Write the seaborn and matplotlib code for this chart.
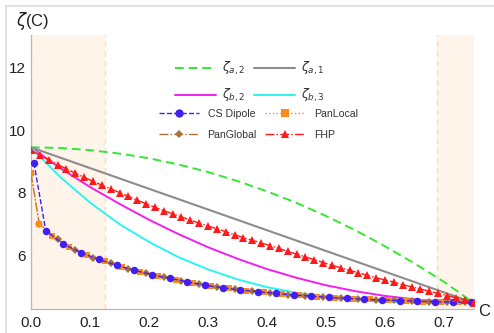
import numpy as np
import pandas as pd
import matplotlib
matplotlib.use("Agg")
import matplotlib.pyplot as plt
import seaborn as sns
from matplotlib.lines import Line2D
from matplotlib.patches import Rectangle

# ---------------- data ----------------
C_curve = [0.00, 0.05, 0.10, 0.15, 0.20, 0.25, 0.30, 0.35,
           0.40, 0.45, 0.50, 0.55, 0.60, 0.65, 0.70, 0.75]
zeta_a2 = [9.45, 9.43, 9.36, 9.25, 9.10, 8.90, 8.66, 8.37,
           8.04, 7.67, 7.25, 6.79, 6.28, 5.73, 5.14, 4.47]
zeta_b2 = [9.45, 8.78, 8.18, 7.64, 7.13, 6.67, 6.25, 5.88,
           5.55, 5.27, 5.03, 4.84, 4.69, 4.58, 4.51, 4.47]
zeta_b3 = [9.45, 8.49, 7.68, 6.99, 6.42, 5.93, 5.54, 5.22,
           4.97, 4.79, 4.65, 4.56, 4.51, 4.48, 4.47, 4.47]
C_a1 = [0.00, 0.75]
zeta_a1 = [9.45, 4.47]

C_dip = [0.005, 0.025, 0.055, 0.085, 0.115, 0.145, 0.175, 0.205, 0.235,
         0.265, 0.295, 0.325, 0.355, 0.385, 0.415, 0.445, 0.475, 0.505,
         0.535, 0.565, 0.595, 0.625, 0.655, 0.685, 0.715, 0.745]
v_dip = [8.95, 6.78, 6.35, 6.07, 5.86, 5.67, 5.51, 5.37, 5.25,
         5.14, 5.03, 4.95, 4.88, 4.82, 4.77, 4.72, 4.68, 4.64,
         4.61, 4.58, 4.56, 4.54, 4.52, 4.50, 4.49, 4.48]

C_loc = [0.000, 0.014, 0.035, 0.065, 0.095, 0.125, 0.155, 0.185, 0.215,
         0.245, 0.275, 0.305, 0.335, 0.365, 0.395, 0.425, 0.455, 0.485,
         0.515, 0.545, 0.575, 0.605, 0.635, 0.665, 0.695, 0.725, 0.750]
v_loc = [8.63, 7.00, 6.62, 6.25, 6.00, 5.80, 5.62, 5.46, 5.33,
         5.21, 5.10, 5.01, 4.93, 4.86, 4.80, 4.75, 4.71, 4.67,
         4.63, 4.60, 4.58, 4.56, 4.53, 4.51, 4.50, 4.49, 4.48]

C_glob = [0.000, 0.014, 0.045, 0.075, 0.105, 0.135, 0.165, 0.195, 0.225,
          0.255, 0.285, 0.315, 0.345, 0.375, 0.405, 0.435, 0.465, 0.495,
          0.525, 0.555, 0.585, 0.615, 0.645, 0.675, 0.705, 0.735]
v_glob = [8.60, 7.00, 6.50, 6.15, 5.92, 5.73, 5.56, 5.41, 5.29,
          5.17, 5.07, 4.98, 4.90, 4.84, 4.78, 4.73, 4.69, 4.65,
          4.62, 4.59, 4.57, 4.55, 4.53, 4.51, 4.50, 4.49]

C_fhp = [0.000, 0.015, 0.030, 0.045, 0.060, 0.075, 0.090, 0.105, 0.120, 0.135,
         0.150, 0.165, 0.180, 0.195, 0.210, 0.225, 0.240, 0.255, 0.270, 0.285,
         0.300, 0.315, 0.330, 0.345, 0.360, 0.375, 0.390, 0.405, 0.420, 0.435,
         0.450, 0.465, 0.480, 0.495, 0.510, 0.525, 0.540, 0.555, 0.570, 0.585,
         0.600, 0.615, 0.630, 0.645, 0.660, 0.675, 0.690, 0.705, 0.720, 0.735,
         0.750]
v_fhp = [9.35, 9.20, 9.05, 8.90, 8.76, 8.62, 8.49, 8.36, 8.24, 8.12,
         8.00, 7.88, 7.76, 7.64, 7.53, 7.42, 7.32, 7.22, 7.12, 7.02,
         6.93, 6.84, 6.75, 6.65, 6.56, 6.47, 6.39, 6.30, 6.21, 6.12,
         6.03, 5.94, 5.85, 5.76, 5.67, 5.59, 5.51, 5.43, 5.35, 5.27,
         5.20, 5.13, 5.05, 4.98, 4.91, 4.84, 4.77, 4.70, 4.63, 4.57,
         4.47]

band_left = (0.0, 0.125)
band_right = (0.688, 0.75)
xticks = [0.0, 0.1, 0.2, 0.3, 0.4, 0.5, 0.6, 0.7]
xticklabels = ["0.0", "0.1", "0.2", "0.3", "0.4", "0.5", "0.6", "0.7"]
yticks = [6, 8, 10, 12]
yticklabels = ["6", "8", "10", "12"]

# ---------------- style ----------------
sns.set_theme(style="white")
plt.rcParams["font.family"] = ["Liberation Sans", "DejaVu Sans"]
plt.rcParams["mathtext.fontset"] = "dejavusans"

fig = plt.figure(figsize=(4.94, 3.33), dpi=100)
ax = fig.add_axes([31 / 494, 1 - 309 / 333, 442.5 / 494, 274 / 333])

# shaded bands
for lo, hi in (band_left, band_right):
    ax.axvspan(lo, hi, color="#fef4ea", lw=0, zorder=0)
for xv in (band_left[0], band_left[1], band_right[0]):
    ax.axvline(xv, color="#fbdcbc", lw=1.0, ls=(0, (4, 3)), zorder=0.5)

col_a2 = "#33e833"
col_a1 = "#8c8c8c"
col_b2 = "#f21ff2"
col_b3 = "#2ef2f2"
col_dip = "#3f1ff5"
col_loc = "#ff8a1c"
col_glob = "#a8733a"
col_fhp = "#ff1a1a"

sns.lineplot(x=C_curve, y=zeta_a2, ax=ax, color=col_a2, lw=1.4,
             linestyle=(0, (4.5, 2.5)), zorder=3)
sns.lineplot(x=C_a1, y=zeta_a1, ax=ax, color=col_a1, lw=1.5, zorder=3)
sns.lineplot(x=C_curve, y=zeta_b2, ax=ax, color=col_b2, lw=1.4, zorder=3)
sns.lineplot(x=C_curve, y=zeta_b3, ax=ax, color=col_b3, lw=1.4, zorder=3)

sns.lineplot(x=C_glob, y=v_glob, ax=ax, color=col_glob, lw=1.0,
             linestyle="-.", marker="D", markersize=3.6,
             markeredgewidth=0, zorder=4)
sns.lineplot(x=C_loc, y=v_loc, ax=ax, color=col_loc, lw=1.0,
             linestyle=":", marker="s", markersize=4.6,
             markeredgewidth=0, zorder=5)
sns.lineplot(x=C_dip, y=v_dip, ax=ax, color=col_dip, lw=1.0,
             linestyle="--", marker="o", markersize=5.4,
             markeredgewidth=0, zorder=6)
sns.lineplot(x=C_fhp, y=v_fhp, ax=ax, color=col_fhp, lw=1.0,
             linestyle="-.", marker="^", markersize=5.6,
             markeredgewidth=0, zorder=7)

leg = ax.get_legend()
if leg is not None:
    leg.remove()

ax.set_xlim(0.0, 0.75)
ax.set_ylim(4.27, 13.05)
ax.set_xticks(xticks)
ax.set_xticklabels(xticklabels)
ax.set_yticks(yticks)
ax.set_yticklabels(yticklabels)
ax.set_xticks(np.arange(0, 0.75, 0.02), minor=True)
ax.set_yticks(np.arange(4.5, 13.0, 0.5), minor=True)
ax.tick_params(axis="both", which="major", direction="in", length=4,
               width=0.8, color="#b5b5b5", labelsize=11, labelcolor="#222222")
ax.tick_params(axis="both", which="minor", direction="in", length=2,
               width=0.6, color="#c5c5c5")
ax.tick_params(axis="x", pad=5)
ax.tick_params(axis="y", pad=4)
for s in ("top", "right"):
    ax.spines[s].set_visible(False)
for s in ("left", "bottom"):
    ax.spines[s].set_color("#b8b8b8")
    ax.spines[s].set_linewidth(0.9)
ax.set_xlabel("")
ax.set_ylabel("")
ax.grid(False)

fig.text(16 / 494, 1 - 21 / 333, r"$\zeta$(C)", fontsize=12,
         color="#222222", ha="left", va="center")
fig.text(478 / 494, 1 - 311 / 333, "C", fontsize=12, color="#222222",
         ha="left", va="center")

# legends
h1 = [Line2D([], [], color=col_a2, lw=1.4, ls=(0, (4.5, 2.5))),
      Line2D([], [], color=col_b2, lw=1.4),
      Line2D([], [], color=col_a1, lw=1.5),
      Line2D([], [], color=col_b3, lw=1.4)]
l1 = [r"$\zeta_{a,2}$", r"$\zeta_{b,2}$", r"$\zeta_{a,1}$", r"$\zeta_{b,3}$"]
leg1 = fig.legend(h1, l1, ncol=2, loc="upper left",
                  bbox_to_anchor=(175 / 494, 1 - 60 / 333),
                  frameon=False, fontsize=9, handlelength=3.3,
                  handletextpad=0.45, columnspacing=0.7, labelspacing=0.8,
                  borderpad=0, borderaxespad=0, labelcolor="#333333")

h2 = [Line2D([], [], color=col_dip, lw=1.0, ls="--", marker="o", ms=6, mew=0),
      Line2D([], [], color=col_glob, lw=1.0, ls="-.", marker="D", ms=4, mew=0),
      Line2D([], [], color=col_loc, lw=1.0, ls=":", marker="s", ms=5.5, mew=0),
      Line2D([], [], color=col_fhp, lw=1.0, ls="-.", marker="^", ms=6, mew=0)]
l2 = ["CS Dipole", "PanGlobal", "PanLocal", "FHP"]
leg2 = fig.legend(h2, l2, ncol=2, loc="upper left",
                  bbox_to_anchor=(159 / 494, 1 - 109 / 333),
                  frameon=False, fontsize=7.6, handlelength=3.8,
                  handletextpad=0.8, columnspacing=0.8, labelspacing=1.0,
                  borderpad=0, borderaxespad=0, labelcolor="#333333")

# light frame around the figure
fig.patches.append(Rectangle((6 / 494, -0.1), 1.2, 1 - 6 / 333 + 0.1,
                             transform=fig.transFigure, fill=False,
                             edgecolor="#dcdcdc", lw=1.2, zorder=0))

fig.savefig("out.png", dpi=100)
